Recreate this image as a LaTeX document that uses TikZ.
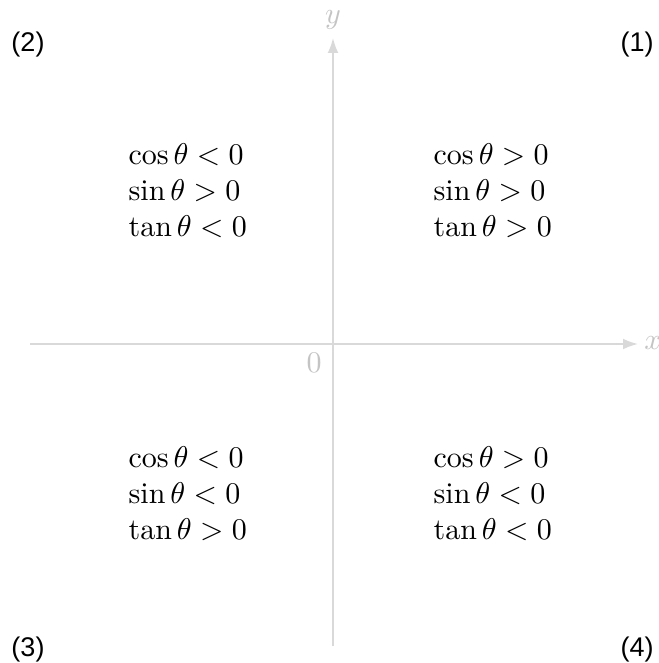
\documentclass[tikz,border=0pt]{standalone}
\usepackage{amsmath,amssymb}
\usepackage{fontspec}
\newfontfamily\labelfont{Liberation Sans}
\usetikzlibrary{arrows.meta}
\definecolor{axisgray}{HTML}{D9D9D9}
\definecolor{labelgray}{HTML}{C4C4C4}

\begin{document}
\begin{tikzpicture}[x=0.3333pt,y=-0.3333pt,
        axis/.style = {draw=axisgray, line width=0.6pt, -{Latex[length=5pt,width=3.6pt]}},
        axislabel/.style = {text=labelgray, inner sep=0pt},
        signs/.style = {anchor=west, align=left, inner sep=0pt},
        quadrant/.style = {font=\labelfont\fontsize{9}{10}\selectfont}]
        \useasboundingbox (0,0) rectangle (659,663);
        % axes
        \coordinate (xstart) at (30,344);
        \coordinate (xend) at (638,344);
        \coordinate (ystart) at (333,646);
        \coordinate (yend) at (333,38);
        \draw[axis] (xstart) -- (xend);
        \draw[axis] (ystart) -- (yend);
        \node[axislabel] (xlab) at (653,343) {$x$};
        \node[axislabel] (ylab) at (333,20) {$y$};
        \node[axislabel] (orig) at (314,363) {$0$};
        % sign table of each quadrant
        \node[signs] (q1) at (433,191) {$\cos\theta>0$\\ $\sin\theta>0$\\ $\tan\theta>0$};
        \node[signs] (q2) at (128,191) {$\cos\theta<0$\\ $\sin\theta>0$\\ $\tan\theta<0$};
        \node[signs] (q3) at (128,494) {$\cos\theta<0$\\ $\sin\theta<0$\\ $\tan\theta>0$};
        \node[signs] (q4) at (433,494) {$\cos\theta>0$\\ $\sin\theta<0$\\ $\tan\theta<0$};
        % quadrant numbers
        \node[quadrant] (n1) at (637,45) {(1)};
        \node[quadrant] (n2) at (28,45) {(2)};
        \node[quadrant] (n3) at (28,650) {(3)};
        \node[quadrant] (n4) at (637,650) {(4)};
    \end{tikzpicture}
\end{document}
